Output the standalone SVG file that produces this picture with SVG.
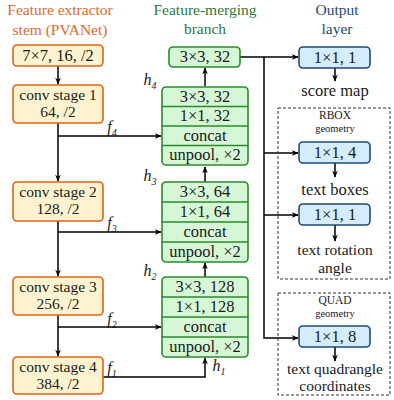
<svg xmlns="http://www.w3.org/2000/svg" width="394" height="400" viewBox="0 0 394 400" font-family="'Liberation Serif', 'Times New Roman', Times, 'DejaVu Serif', serif">
<style>
text{font-family:'Liberation Serif','Times New Roman',Times,'DejaVu Serif',serif;font-size:16.5px;fill:#1a1a1a;text-anchor:middle}
.ho,.hg,.hb{font-size:15.5px}
.ho{fill:#e06a2a}.hg{fill:#2e7a3a}.hb{fill:#1f4a78}
.two{font-size:15.5px}
.ob{fill:#fff3cf;stroke:#e2621b;stroke-width:1.6}
.gb{fill:#d6f7d6;stroke:#2a8a2a;stroke-width:1.6}
.gl{stroke:#2a8a2a;stroke-width:1.6}
.bb{fill:#d4ecfb;stroke:#1f4a78;stroke-width:1.6}
.ln{fill:none;stroke:#000;stroke-width:1.5}
.ds{fill:none;stroke:#333;stroke-width:1;stroke-dasharray:3,2}
.it{font-style:italic;font-size:16px}
.sub{font-size:10px}
.sm{font-size:11.5px}
.xs{font-size:10.5px}
</style>
<defs>
<marker id="ah" viewBox="0 0 10 10" refX="9" refY="5" markerWidth="7" markerHeight="7" orient="auto" markerUnits="userSpaceOnUse">
<path d="M0,1 L10,5 L0,9 L3,5 z" fill="#000"/>
</marker>
</defs>
<g id="headers">
<text class="ho" x="60" y="15">Feature extractor</text>
<text class="ho" x="60" y="35">stem (PVANet)</text>
<text class="hg" x="205" y="15">Feature-merging</text>
<text class="hg" x="205" y="34">branch</text>
<text class="hb" x="337" y="15">Output</text>
<text class="hb" x="337" y="34">layer</text>
</g>
<g id="connectors">
<line class="ln" x1="58" y1="66" x2="58" y2="84" marker-end="url(#ah)"/>
<line class="ln" x1="58" y1="123" x2="58" y2="181" marker-end="url(#ah)"/>
<line class="ln" x1="58" y1="221" x2="58" y2="276" marker-end="url(#ah)"/>
<line class="ln" x1="58" y1="315" x2="58" y2="356" marker-end="url(#ah)"/>
<line class="ln" x1="58" y1="136" x2="161" y2="136" marker-end="url(#ah)"/>
<line class="ln" x1="58" y1="232" x2="161" y2="232" marker-end="url(#ah)"/>
<line class="ln" x1="58" y1="327" x2="161" y2="327" marker-end="url(#ah)"/>
<polyline class="ln" points="103,377 205,377 205,358" marker-end="url(#ah)"/>
<line class="ln" x1="205" y1="277" x2="205" y2="263" marker-end="url(#ah)"/>
<line class="ln" x1="205" y1="182" x2="205" y2="167" marker-end="url(#ah)"/>
<line class="ln" x1="205" y1="86" x2="205" y2="68" marker-end="url(#ah)"/>
<polyline class="ln" points="240,57 298,57" marker-end="url(#ah)"/>
<polyline class="ln" points="264,57 264,338 298,338" marker-end="url(#ah)"/>
<line class="ln" x1="264" y1="153" x2="298" y2="153" marker-end="url(#ah)"/>
<line class="ln" x1="264" y1="215" x2="298" y2="215" marker-end="url(#ah)"/>
<line class="ln" x1="335" y1="68" x2="335" y2="81" marker-end="url(#ah)"/>
<line class="ln" x1="335" y1="163" x2="335" y2="177" marker-end="url(#ah)"/>
<line class="ln" x1="335" y1="225" x2="335" y2="241" marker-end="url(#ah)"/>
<line class="ln" x1="335" y1="347" x2="335" y2="361" marker-end="url(#ah)"/>
</g>
<g id="flabels">
<text class="it" x="112" y="132">f<tspan class="sub" dy="4">4</tspan></text>
<text class="it" x="112" y="228">f<tspan class="sub" dy="4">3</tspan></text>
<text class="it" x="112" y="324">f<tspan class="sub" dy="4">2</tspan></text>
<text class="it" x="112" y="373">f<tspan class="sub" dy="4">1</tspan></text>
<text class="it" x="150" y="85">h<tspan class="sub" dy="4">4</tspan></text>
<text class="it" x="150" y="181">h<tspan class="sub" dy="4">3</tspan></text>
<text class="it" x="150" y="276">h<tspan class="sub" dy="4">2</tspan></text>
<text class="it" x="219" y="371">h<tspan class="sub" dy="4">1</tspan></text>
</g>
<g id="stem">
<rect class="ob" x="13" y="45" width="90" height="21" rx="4"/>
<text x="58" y="61">7×7, 16, /2</text>
</g>
<g id="conv1">
<rect class="ob" x="13" y="85" width="90" height="38" rx="4"/>
<text class="two" x="58" y="100">conv stage 1</text>
<text class="two" x="58" y="117">64, /2</text>
</g>
<g id="conv2">
<rect class="ob" x="13" y="182" width="90" height="39" rx="4"/>
<text class="two" x="58" y="197">conv stage 2</text>
<text class="two" x="58" y="214">128, /2</text>
</g>
<g id="conv3">
<rect class="ob" x="13" y="277" width="90" height="38" rx="4"/>
<text class="two" x="58" y="292">conv stage 3</text>
<text class="two" x="58" y="309">256, /2</text>
</g>
<g id="conv4">
<rect class="ob" x="13" y="357" width="90" height="37" rx="4"/>
<text class="two" x="58" y="372">conv stage 4</text>
<text class="two" x="58" y="389">384, /2</text>
</g>
<g id="merge-top">
<rect class="gb" x="169" y="47" width="71" height="20" rx="4"/>
<text x="205" y="62">3×3, 32</text>
</g>
<g id="merge4">
<rect class="gb" x="162" y="87" width="86" height="78" rx="4"/>
<line class="gl" x1="162" y1="106.5" x2="248" y2="106.5"/>
<line class="gl" x1="162" y1="126" x2="248" y2="126"/>
<line class="gl" x1="162" y1="145.5" x2="248" y2="145.5"/>
<text x="205" y="102">3×3, 32</text>
<text x="205" y="121">1×1, 32</text>
<text x="205" y="141">concat</text>
<text x="205" y="160">unpool, ×2</text>
</g>
<g id="merge3">
<rect class="gb" x="162" y="182" width="86" height="80" rx="4"/>
<line class="gl" x1="162" y1="202" x2="248" y2="202"/>
<line class="gl" x1="162" y1="222" x2="248" y2="222"/>
<line class="gl" x1="162" y1="242" x2="248" y2="242"/>
<text x="205" y="197">3×3, 64</text>
<text x="205" y="217">1×1, 64</text>
<text x="205" y="237">concat</text>
<text x="205" y="257">unpool, ×2</text>
</g>
<g id="merge2">
<rect class="gb" x="162" y="277" width="86" height="80" rx="4"/>
<line class="gl" x1="162" y1="297" x2="248" y2="297"/>
<line class="gl" x1="162" y1="317" x2="248" y2="317"/>
<line class="gl" x1="162" y1="337" x2="248" y2="337"/>
<text x="205" y="292">3×3, 128</text>
<text x="205" y="312">1×1, 128</text>
<text x="205" y="332">concat</text>
<text x="205" y="352">unpool, ×2</text>
</g>
<g id="score">
<rect class="bb" x="299" y="47" width="71" height="21" rx="4"/>
<text x="335" y="63">1×1, 1</text>
<text x="335" y="96">score map</text>
</g>
<g id="rbox">
<rect class="ds" x="278" y="108" width="112" height="171"/>
<text class="sm" x="335" y="119">RBOX</text>
<text class="xs" x="335" y="132">geometry</text>
<rect class="bb" x="299" y="142" width="71" height="21" rx="4"/>
<text x="335" y="158">1×1, 4</text>
<text x="335" y="195">text boxes</text>
<rect class="bb" x="299" y="204" width="71" height="21" rx="4"/>
<text x="335" y="220">1×1, 1</text>
<text class="two" x="335" y="255">text rotation</text>
<text class="two" x="335" y="273">angle</text>
</g>
<g id="quad">
<rect class="ds" x="278" y="293" width="112" height="102"/>
<text class="sm" x="335" y="304">QUAD</text>
<text class="xs" x="335" y="317">geometry</text>
<rect class="bb" x="299" y="326" width="71" height="21" rx="4"/>
<text x="335" y="342">1×1, 8</text>
<text class="two" x="335" y="374">text quadrangle</text>
<text class="two" x="335" y="391">coordinates</text>
</g>
</svg>
